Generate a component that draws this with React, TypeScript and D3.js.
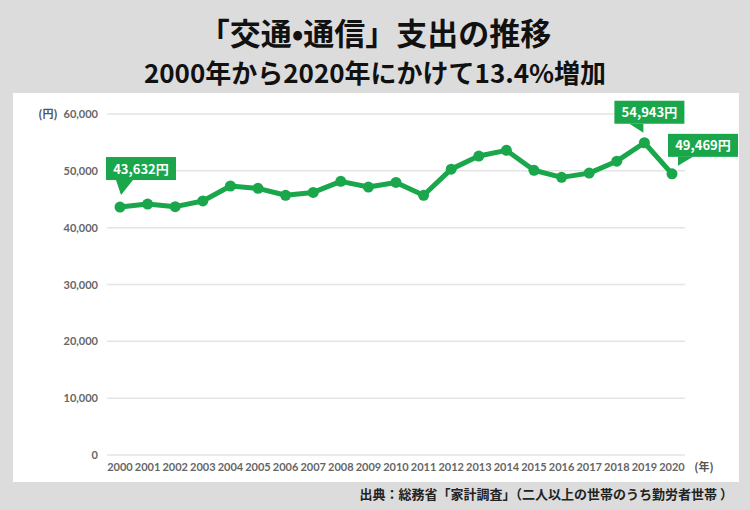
import React from "react";
import * as d3 from "d3";

const years: number[] = [2000, 2001, 2002, 2003, 2004, 2005, 2006, 2007, 2008, 2009, 2010, 2011, 2012, 2013, 2014, 2015, 2016, 2017, 2018, 2019, 2020];
const spending: number[] = [43632, 44150, 43700, 44700, 47330, 46920, 45700, 46200, 48150, 47150, 47950, 45700, 50300, 52600, 53600, 50100, 48850, 49600, 51700, 54943, 49469];
const yTicks: number[] = [0, 10000, 20000, 30000, 40000, 50000, 60000];
const callouts: { year: number; label: string; side: "left" | "right" | "below" }[] = [
  { year: 2000, label: "43,632円", side: "left" },
  { year: 2019, label: "54,943円", side: "right" },
  { year: 2020, label: "49,469円", side: "below" },
];

const title = "「交通•通信」支出の推移";
const subtitle = "2000年から2020年にかけて13.4%増加";
const source = "出典：総務省「家計調査」（二人以上の世帯のうち勤労者世帯 ）";

const W = 750;
const H = 510;
const GREEN = "#1aa64b";
const FONT = "'Noto Sans CJK JP', 'Noto Sans', sans-serif";

export default function App() {
  const x = d3.scaleLinear().domain([2000, 2020]).range([120, 672]);
  const y = d3.scaleLinear().domain([0, 60000]).range([455, 114]);
  const line = d3
    .line<number>()
    .x((_, i) => x(years[i]))
    .y((d) => y(d));
  const fmt = d3.format(",");

  const calloutEls = callouts.map((c) => {
    const i = years.indexOf(c.year);
    const px = x(c.year);
    const py = y(spending[i]);
    let rx: number, ry: number, tri: string;
    const rw = 70;
    const rh = 23;
    if (c.side === "left") {
      rx = px - 14;
      ry = py - 50;
      tri = `${px - 4},${ry + rh} ${px + 13},${ry + rh} ${px + 1},${py - 12}`;
    } else if (c.side === "right") {
      rx = px - 30;
      ry = py - 42;
      tri = `${px - 15},${ry + rh} ${px - 1},${ry + rh} ${px - 1},${py - 10}`;
    } else {
      rx = px - 4;
      ry = py - 40;
      tri = `${px + 6},${ry + rh} ${px + 21},${ry + rh} ${px + 6},${py - 8}`;
    }
    return (
      <g key={c.year}>
        <rect x={rx} y={ry} width={rw} height={rh} fill={GREEN} />
        <polygon points={tri} fill={GREEN} />
        <text x={rx + rw / 2} y={ry + rh / 2 + 5} textAnchor="middle" fill="#fff" fontSize={13} fontWeight={700} fontFamily={FONT}>
          {c.label}
        </text>
      </g>
    );
  });

  return (
    <svg width={W} height={H} style={{ position: "absolute", left: 0, top: 0 }} fontFamily={FONT}>
      <rect x={0} y={0} width={W} height={H} fill="#dcdcdc" />
      <rect x={13} y={93} width={726} height={389} fill="#ffffff" />
      <text x={375} y={45} textAnchor="middle" fontSize={31} fontWeight={700} fill="#111">
        {title}
      </text>
      <text x={375} y={83} textAnchor="middle" fontSize={26} fontWeight={700} fill="#111">
        {subtitle}
      </text>
      {yTicks.map((t) => (
        <g key={t}>
          <line x1={107} x2={685} y1={y(t)} y2={y(t)} stroke="#e4e4e4" strokeWidth={1.5} />
          <text x={98} y={y(t) + 4} textAnchor="end" fontSize={11} fontWeight={700} fill="#666" fontFamily="Lato, 'Noto Sans', sans-serif">
            {fmt(t)}
          </text>
        </g>
      ))}
      <text x={48} y={118} textAnchor="middle" fontSize={11} fontWeight={700} fill="#555">
        (円)
      </text>
      {years.map((yr) => (
        <text key={yr} x={x(yr)} y={471} textAnchor="middle" fontSize={11} fontWeight={700} fill="#666" fontFamily="Lato, 'Noto Sans', sans-serif">
          {yr}
        </text>
      ))}
      <text x={704} y={471} textAnchor="middle" fontSize={11} fontWeight={700} fill="#555">
        (年)
      </text>
      <path d={line(spending) || ""} fill="none" stroke={GREEN} strokeWidth={5} strokeLinejoin="round" />
      {spending.map((v, i) => (
        <circle key={i} cx={x(years[i])} cy={y(v)} r={5.5} fill={GREEN} />
      ))}
      {calloutEls}
      <text x={733} y={499} textAnchor="end" fontSize={13} fontWeight={700} fill="#222">
        {source}
      </text>
    </svg>
  );
}
